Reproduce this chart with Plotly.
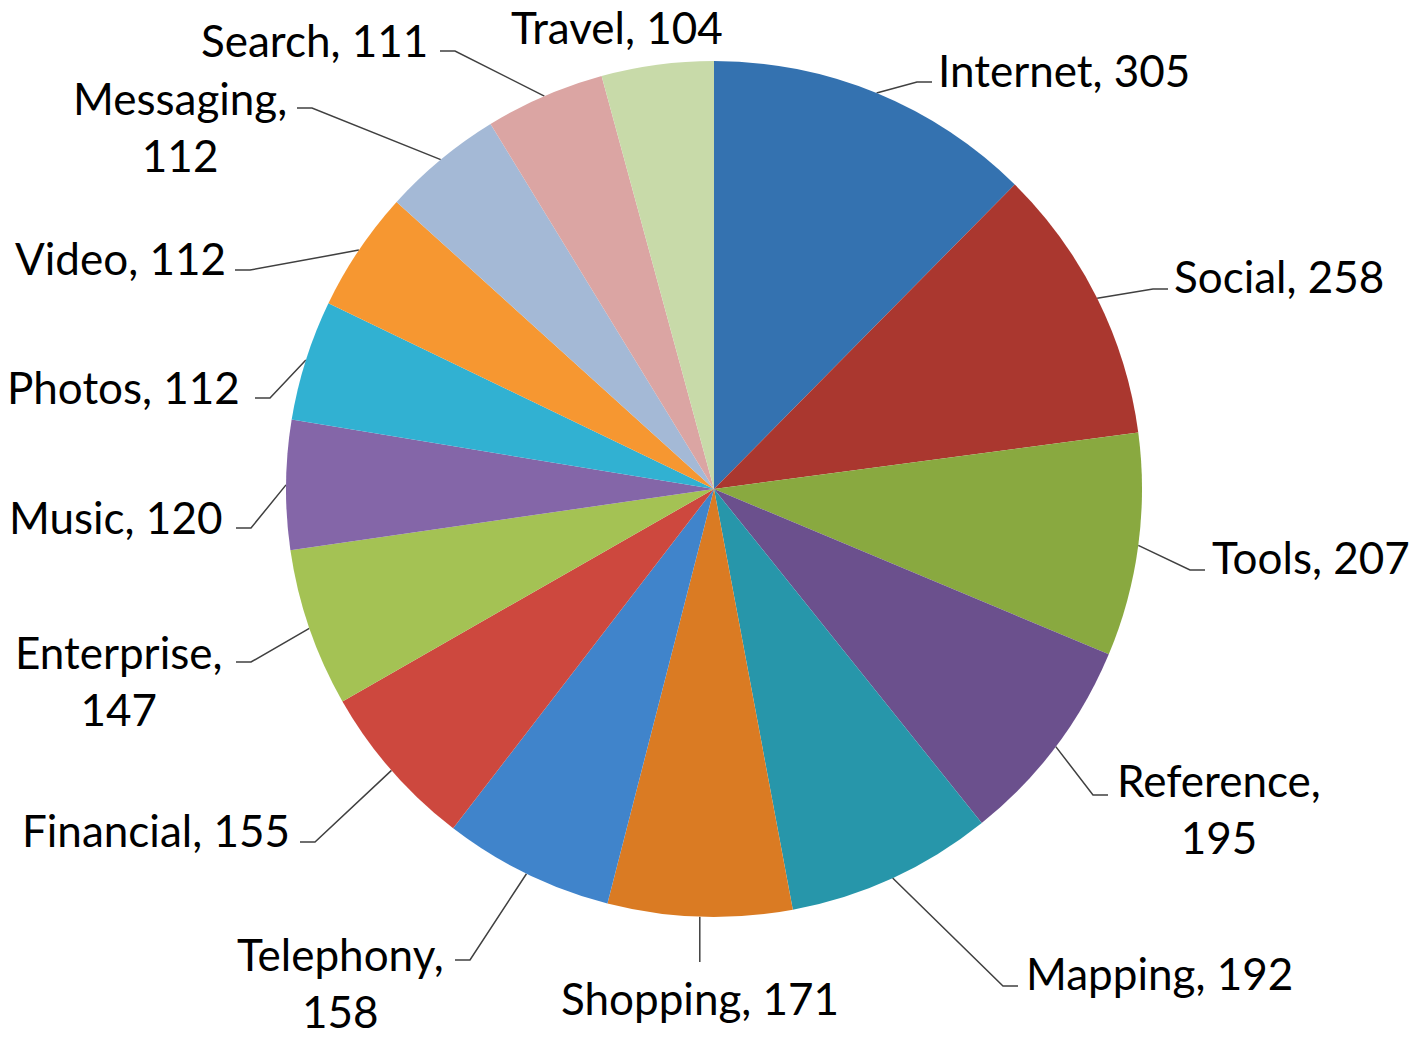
import math
import plotly.graph_objects as go

# data
categories = ["Internet", "Social", "Tools", "Reference", "Mapping", "Shopping",
              "Telephony", "Financial", "Enterprise", "Music", "Photos", "Video",
              "Messaging", "Search", "Travel"]
counts = [305, 258, 207, 195, 192, 171, 158, 155, 147, 120, 112, 112, 112, 111, 104]
colors = ["#3472b0", "#aa372f", "#89a940", "#6b508d", "#2796aa", "#da7b23",
          "#4084cb", "#cd483e", "#a4c254", "#8466a8", "#31b1d2", "#f69731",
          "#a4b9d6", "#dba5a3", "#c8daa9"]

W, H = 1410, 1039
CX, CY, R = 714, 489, 428   # pie centre / radius in pixels

# label placement (pixels): text x, text y, anchor, line end x, line end y, multi-line
# line end x of None with a y means a straight vertical leader
label_layout = {
    "Internet":   (936, 70, "left", 932, 82, False),
    "Social":     (1172, 276, "left", 1168, 289, False),
    "Tools":      (1210, 557, "left", 1205, 570, False),
    "Reference":  (1219, 808, "center", 1108, 795, True),
    "Mapping":    (1024, 973, "left", 1018, 986, False),
    "Shopping":   (700, 998, "center", None, 962, False),
    "Telephony":  (340, 982, "center", 455, 960, True),
    "Financial":  (292, 830, "right", 300, 842, False),
    "Enterprise": (118, 680, "center", 236, 662, True),
    "Music":      (224, 517, "right", 236, 528, False),
    "Photos":     (242, 387, "right", 255, 398, False),
    "Video":      (228, 258, "right", 235, 270, False),
    "Messaging":  (180, 126, "center", 297, 108, True),
    "Search":     (430, 40, "right", 440, 51, False),
    "Travel":     (617, 27, "center", None, None, False),
}


def px2x(px):
    return (px - CX) / R


def py2y(py):
    return (CY - py) / R


fig = go.Figure()

fig.add_trace(go.Pie(
    labels=categories, values=counts, sort=False, direction="clockwise",
    rotation=0, marker=dict(colors=colors, line=dict(width=0)),
    textinfo="none", hoverinfo="label+value", showlegend=False,
    domain=dict(x=[(CX - R) / W, (CX + R) / W],
                y=[(H - CY - R) / H, (H - CY + R) / H]),
))

total = sum(counts)
cum = 0
annotations = []
for name, val in zip(categories, counts):
    mid = (cum + val / 2) / total * 2 * math.pi
    cum += val
    ex, ey = math.sin(mid), math.cos(mid)
    tx, ty, anchor, lx, ly, multi = label_layout[name]
    text = f"{name},<br>{val}" if multi else f"{name}, {val}"
    annotations.append(dict(x=px2x(tx), y=py2y(ty), xref="x", yref="y", text=text,
                            showarrow=False, xanchor=anchor, yanchor="middle",
                            align="center"))
    if ly is None:
        continue
    if lx is None:
        xs, ys = [ex, ex], [ey, py2y(ly)]
    else:
        elbow = lx + 15 if lx < CX else lx - 15
        xs = [ex, px2x(elbow), px2x(lx)]
        ys = [ey, py2y(ly), py2y(ly)]
    fig.add_trace(go.Scatter(x=xs, y=ys, mode="lines", hoverinfo="skip",
                             line=dict(color="#404040", width=1.5), showlegend=False))

fig.update_layout(
    width=W, height=H, margin=dict(l=0, r=0, t=0, b=0),
    paper_bgcolor="white", plot_bgcolor="white",
    font=dict(family="Lato", size=44, color="black"),
    xaxis=dict(range=[px2x(0), px2x(W)], visible=False, fixedrange=True),
    yaxis=dict(range=[py2y(H), py2y(0)], visible=False, fixedrange=True),
    annotations=annotations,
)

fig.write_html("out.html", config={"displayModeBar": False},
               post_script="document.body.style.margin='0';")
